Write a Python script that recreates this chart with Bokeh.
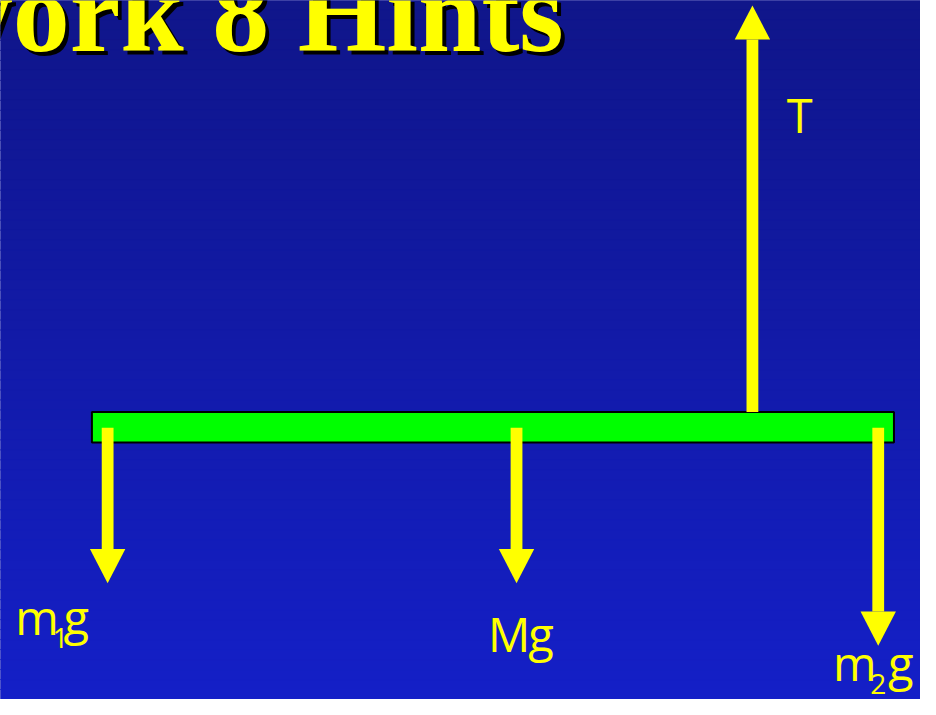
import numpy as np
from bokeh.plotting import figure
from bokeh.models import Range1d
from bokeh.core.properties import value
from bokeh.embed import file_html
from bokeh.resources import INLINE

# ---- data (reference-image pixel coordinates, 936 x 715) ----
title_text = ["Homework 8 Hints"]

beam_left = [93]
beam_right = [909]
beam_top = [421]
beam_bottom = [452]

force_names = ["m1g", "Mg", "m2g", "T"]
force_x = [109, 525, 893, 765]
force_start = [437, 437, 437, 421]
force_tip = [596, 596, 660, 5]

label_text = ["m", "g", "M", "g", "m", "g", "T"]
label_x = [15, 64, 496, 537, 847, 903, 800]
label_y = [653, 653, 670, 670, 700, 700, 139]

sub_text = ["1", "2"]
sub_x = [53, 885]
sub_y = [665, 712]

# ---- figure ----
W, H = 920, 699
RW, RH = 936, 715
s = W / RW
p = figure(width=W, height=H, x_range=Range1d(0, RW), y_range=Range1d(RH, 0),
           output_backend="svg", toolbar_location=None, min_border=0,
           x_axis_type=None, y_axis_type=None)
p.grid.visible = False
p.outline_line_color = None
p.background_fill_color = "#1219A8"
p.border_fill_color = "#1219A8"

# vertical background gradient
n = 70
edges = np.linspace(0, RH, n + 1)
top_c = np.array([16, 22, 138])
bot_c = np.array([21, 32, 200])
cols = []
for i in range(n):
    t = (edges[i] + edges[i + 1]) / 2 / RH
    c = (top_c * (1 - t) + bot_c * t).astype(int)
    cols.append("#%02x%02x%02x" % tuple(c))
p.quad(left=-2, right=RW + 2, top=list(edges[:-1]), bottom=list(edges[1:]),
       fill_color=cols, line_color=cols, line_width=1)


def base_fix(ys, fs, k):
    # correction for where the renderer puts the alphabetic baseline
    return [y - k * fs / s for y in ys]


# title with shadow
title_fs = 114
tx, ty = 573, 56
ty_d = base_fix([ty], title_fs, 0.374)[0]
for dx, col in ((4, "black"), (0, "#FFFF00")):
    p.text(x=[tx + dx], y=[ty_d + dx], text=title_text, text_color=col,
           text_font=value("Liberation Serif"), text_font_style="bold",
           text_font_size=f"{title_fs}px", text_align="right", text_baseline="alphabetic")

# beam
p.quad(left=beam_left, right=beam_right, top=beam_top, bottom=beam_bottom,
       fill_color="#00FF00", line_color="black", line_width=2)

# arrows
shaft_w = 12
head_w = 36
head_l = 35
sl, sr, st, sb, hx, hy = [], [], [], [], [], []
for x, s0, tip in zip(force_x, force_start, force_tip):
    d = 1 if tip > s0 else -1
    base = tip - d * head_l
    sl.append(x - shaft_w / 2)
    sr.append(x + shaft_w / 2)
    st.append(s0)
    sb.append(base)
    hx.append([x - head_w / 2, x + head_w / 2, x])
    hy.append([base, base, tip])
p.quad(left=sl, right=sr, top=st, bottom=sb, fill_color="#FFFF00", line_color=None)
p.patches(xs=hx, ys=hy, fill_color="#FFFF00", line_color=None)

# labels
lab_fs = 47
sub_fs = 28
p.text(x=label_x, y=base_fix(label_y, lab_fs, 0.46), text=label_text, text_color="#FFFF00",
       text_font=value("Open Sans"), text_font_size=f"{lab_fs}px",
       text_align="left", text_baseline="alphabetic")
p.text(x=sub_x, y=base_fix(sub_y, sub_fs, 0.46), text=sub_text, text_color="#FFFF00",
       text_font=value("Open Sans"), text_font_size=f"{sub_fs}px",
       text_align="left", text_baseline="alphabetic")

open("out.html", "w").write(file_html(p, INLINE))
